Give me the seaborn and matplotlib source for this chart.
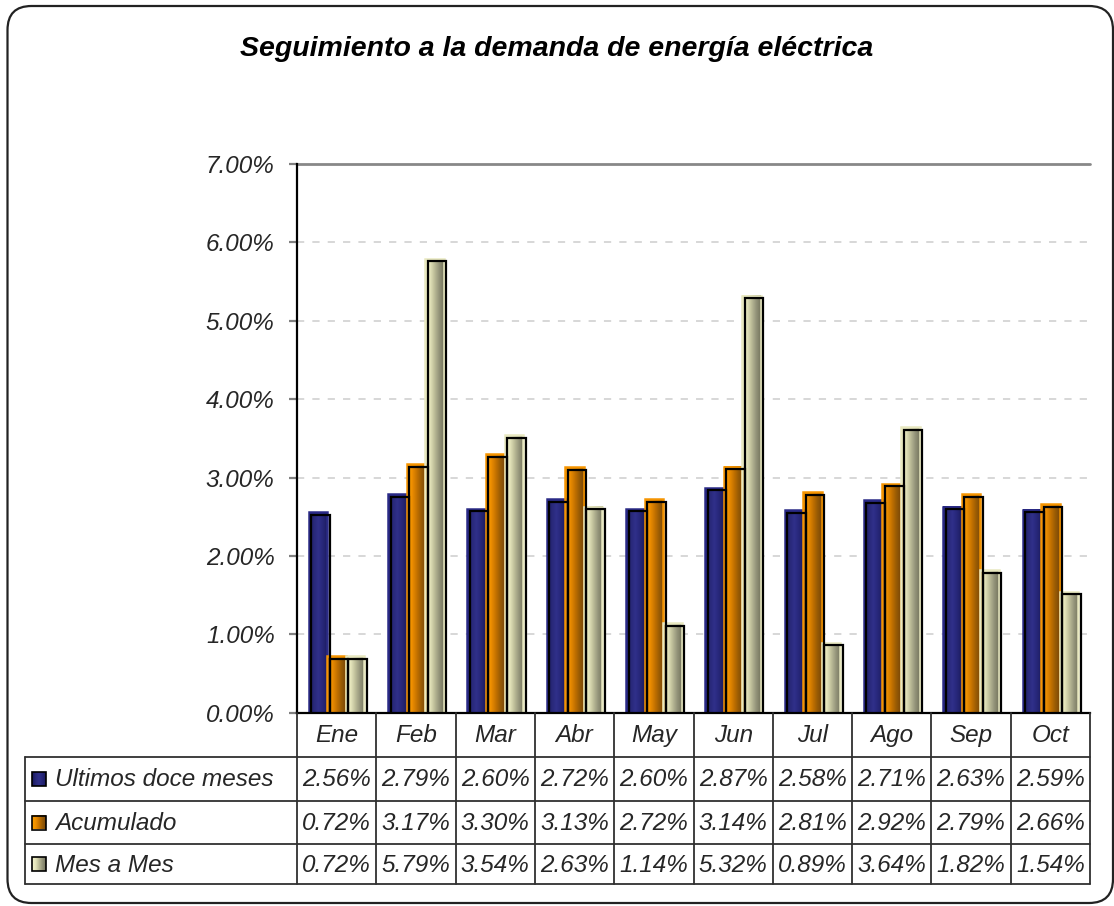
"""
Seguimiento a la demanda de energía eléctrica:
bar chart with data table underneath (Excel-like layout).
"""

import numpy as np
import pandas as pd
import matplotlib.pyplot as plt
import seaborn as sns
from matplotlib.colors import LinearSegmentedColormap
from matplotlib.patches import FancyBboxPatch, Rectangle
from matplotlib.ticker import FuncFormatter


# =============================================================================
# Data
# =============================================================================

meses = ["Ene", "Feb", "Mar", "Abr", "May", "Jun", "Jul", "Ago", "Sep", "Oct"]

ultimos_doce_meses = [2.56, 2.79, 2.60, 2.72, 2.60, 2.87, 2.58, 2.71, 2.63, 2.59]
acumulado = [0.72, 3.17, 3.30, 3.13, 2.72, 3.14, 2.81, 2.92, 2.79, 2.66]
mes_a_mes = [0.72, 5.79, 3.54, 2.63, 1.14, 5.32, 0.89, 3.64, 1.82, 1.54]

series = ["Ultimos doce meses", "Acumulado", "Mes a Mes"]
y_ticks = [0, 1, 2, 3, 4, 5, 6, 7]

titulo = "Seguimiento a la demanda de energía eléctrica"


df = pd.DataFrame({
    "mes": meses * 3,
    "serie": np.repeat(series, len(meses)),
    "valor": ultimos_doce_meses + acumulado + mes_a_mes,
})


# =============================================================================
# Style
# =============================================================================

sns.set_style("white")
plt.rcParams["font.family"] = ["Liberation Sans", "DejaVu Sans"]

W, H = 1114, 906

gradients = {
    "Ultimos doce meses": ["#18185a", "#282878", "#30308a", "#262678", "#1c1c5e"],
    "Acumulado": ["#f8a000", "#f09000", "#c87400", "#9a5c04", "#7a4808"],
    "Mes a Mes": ["#f2f2cc", "#e6e6bc", "#bcbc98", "#94947a", "#76765e"],
}
rim = {
    "Ultimos doce meses": "#2a2a86",
    "Acumulado": "#f59400",
    "Mes a Mes": "#e8e8c0",
}
cmaps = {
    k: LinearSegmentedColormap.from_list(k, v) for k, v in gradients.items()
}
ramp = np.linspace(0, 1, 64).reshape(1, -1)

font_size = 17.5


# =============================================================================
# Figure
# =============================================================================

fig = plt.figure(figsize=(W / 100, H / 100), dpi=100)

ax_left, ax_right = 297, 1090
ax_bottom, ax_top = 712.7, 164

ax = fig.add_axes([
    ax_left / W,
    1 - ax_bottom / H,
    (ax_right - ax_left) / W,
    (ax_bottom - ax_top) / H,
])

sns.barplot(
    data=df,
    x="mes",
    y="valor",
    hue="serie",
    hue_order=series,
    order=meses,
    palette=rim,
    width=0.7,
    saturation=1,
    legend=False,
    ax=ax,
)

# one pixel in data units (for the 3D shadow outline)
px_x = len(meses) / (ax_right - ax_left)
px_y = 7 / (ax_bottom - ax_top)

# gradient fill and shadow outline for every bar
for serie, container in zip(series, ax.containers):
    for patch in container.patches:
        x0 = patch.get_x()
        w = patch.get_width()
        h = patch.get_height()
        ax.imshow(
            ramp,
            cmap=cmaps[serie],
            extent=(x0, x0 + w, 0, h),
            aspect="auto",
            interpolation="bilinear",
            zorder=2,
        )
        patch.set_facecolor("none")
        patch.set_edgecolor(rim[serie])
        patch.set_linewidth(1.8)
        patch.set_zorder(3)
        ax.add_patch(Rectangle(
            (x0 + 2.5 * px_x, -5 * px_y),
            w,
            h + 2.5 * px_y,
            facecolor="none",
            edgecolor="black",
            linewidth=1.6,
            zorder=4,
        ))

ax.set_xlim(-0.5, len(meses) - 0.5)
ax.set_ylim(0, 7)
ax.set_yticks(y_ticks)
ax.yaxis.set_major_formatter(FuncFormatter(lambda v, _: f"{v:.2f}%"))
ax.set_xticks([])
ax.set_xlabel("")
ax.set_ylabel("")

for label in ax.get_yticklabels():
    label.set_fontstyle("italic")
    label.set_fontsize(font_size)

ax.tick_params(
    axis="y",
    direction="out",
    length=6,
    width=1.6,
    color="#808080",
    pad=10,
    left=True,
)

for t in y_ticks[1:-1]:
    ax.axhline(
        t,
        color="#d4d4d4",
        linewidth=1.3,
        linestyle=(0, (4, 4.5)),
        zorder=1,
    )
ax.axhline(y_ticks[-1], color="#888888", linewidth=2, zorder=1, clip_on=False)

for side in ["top", "right"]:
    ax.spines[side].set_visible(False)
ax.spines["left"].set_color("black")
ax.spines["left"].set_linewidth(1.6)
ax.spines["bottom"].set_color("black")
ax.spines["bottom"].set_linewidth(1.6)
ax.spines["bottom"].set_zorder(5)


# =============================================================================
# Overlay in pixel coordinates: border, table and legend keys
# =============================================================================

ov = fig.add_axes([0, 0, 1, 1], zorder=5)
ov.set_xlim(0, W)
ov.set_ylim(H, 0)
ov.axis("off")
ov.patch.set_alpha(0)

ov.add_patch(FancyBboxPatch(
    (7.5, 6),
    1113 - 7.5,
    903 - 6,
    boxstyle="round,pad=0,rounding_size=24",
    facecolor="none",
    edgecolor="#222222",
    linewidth=1.6,
))

fig.text(
    0.5,
    1 - 56 / H,
    titulo,
    ha="center",
    va="baseline",
    fontsize=20.5,
    fontweight="bold",
    fontstyle="italic",
    color="black",
)

# column boundaries in pixels from the bar axis scale
edges = [
    ax.transData.transform((i - 0.5, 0))[0]
    for i in range(len(meses) + 1)
]
col_px = [
    ax_left + (ax_right - ax_left) * (c - edges[0]) / (edges[-1] - edges[0])
    for c in edges
]

row_lines = [ax_bottom, 757, 801, 844, 884]
table_left = 25
line_kw = dict(color="#303030", linewidth=1.3)

for c in col_px:
    ov.plot([c, c], [row_lines[0], row_lines[-1]], **line_kw)
for r in row_lines[1:]:
    ov.plot([table_left, ax_right], [r, r], **line_kw)
ov.plot([table_left, table_left], [row_lines[1], row_lines[-1]], **line_kw)

centers = [(a + b) / 2 for a, b in zip(col_px[:-1], col_px[1:])]

header_y = (row_lines[0] + row_lines[1]) / 2
for cx, mes in zip(centers, meses):
    ov.text(cx, header_y + 1, mes, ha="center", va="center",
            fontsize=font_size, fontstyle="italic")

values = [ultimos_doce_meses, acumulado, mes_a_mes]
for k, (serie, vals) in enumerate(zip(series, values)):
    y0, y1 = row_lines[k + 1], row_lines[k + 2]
    yc = (y0 + y1) / 2

    # legend key
    ov.imshow(
        ramp,
        cmap=cmaps[serie],
        extent=(32, 46, yc + 7, yc - 7),
        aspect="auto",
        interpolation="bilinear",
    )
    ov.add_patch(Rectangle(
        (32, yc - 7), 14, 14,
        facecolor="none", edgecolor="black", linewidth=1.2,
    ))

    ov.text(55, yc + 1, serie, ha="left", va="center",
            fontsize=font_size, fontstyle="italic")

    for cx, v in zip(centers, vals):
        ov.text(cx, yc + 1, f"{v:.2f}%", ha="center", va="center",
                fontsize=font_size, fontstyle="italic")

ov.set_xlim(0, W)
ov.set_ylim(H, 0)

fig.savefig("out.png", dpi=100)
